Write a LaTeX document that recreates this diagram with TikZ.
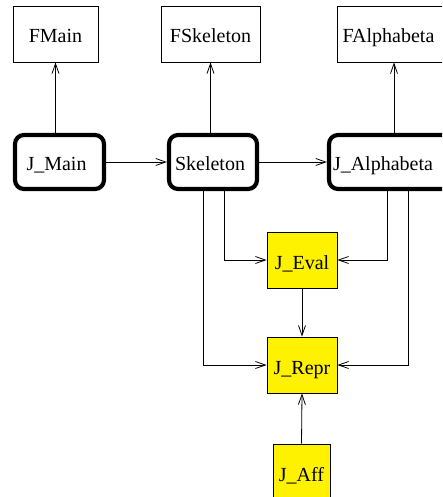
\documentclass[tikz,border=0pt]{standalone}
\usepackage{fontspec}
\setmainfont{Liberation Serif}
\usetikzlibrary{arrows.meta,calc}
\begin{document}
\begin{tikzpicture}[x=1pt,y=-1pt,
  every node/.style={font=\fontsize{20}{24}\selectfont, inner sep=0pt,
    text height=18pt, text depth=0pt},
  filebox/.style={draw, line width=0.8pt, minimum height=56pt},
  modbox/.style={draw, line width=4.2pt, rounded corners=9pt, minimum height=54pt},
  unitbox/.style={draw, line width=0.8pt, fill=yellow, minimum height=56pt},
  arr/.style={line width=0.8pt, -{Straight Barb[length=10pt,width=7pt,line width=0.8pt]}}]
  \useasboundingbox (0,0) rectangle (442,497);
  \clip (0,0) rectangle (442,497);

  % file boxes
  \node[filebox, minimum width=85pt] (fmain) at (55.5,34) {FMain};
  \node[filebox, minimum width=99pt] (fskel) at (210.5,34) {FSkeleton};
  \node[filebox, minimum width=114pt] (falpha) at (394,34) {\hspace*{-11pt}FAlphabeta};

  % module boxes
  \node[modbox, minimum width=89pt] (jmain) at (59.5,162) {J\_Main\hspace*{6pt}};
  \node[modbox, minimum width=88pt] (skel) at (213,162) {Skeleton\hspace*{6pt}};
  \node[modbox, minimum width=130pt] (jalpha) at (394,162) {\hspace*{-22pt}J\_Alphabeta};

  % unit boxes
  \node[unitbox, minimum width=70pt] (jeval) at (302,260) {J\_Eval};
  \node[unitbox, minimum width=70pt] (jrepr) at (302,365) {J\_Repr};
  \node[unitbox, minimum width=57pt] (jaff) at (301.5,472) {J\_Aff};

  % helper points on the lower edges
  \coordinate (sa) at (203,190);
  \coordinate (sb) at (224,190);
  \coordinate (aa) at (387,190);
  \coordinate (ab) at (408,190);

  % upward links to the files
  \draw[arr] (jmain.north -| fmain.south) -- (fmain.south);
  \draw[arr] (skel.north -| fskel.south) -- (fskel.south);
  \draw[arr] (jalpha.north) -- (falpha.south);

  % main chain
  \draw[arr] (jmain.east) -- (skel.west);
  \draw[arr] (skel.east) -- (jalpha.west);

  % links down to the units
  \draw[arr] (sb) |- (jeval.west);
  \draw[arr] (sa) |- (jrepr.west);
  \draw[arr] (aa) |- (jeval.east);
  \draw[arr] (ab) |- (jrepr.east);
  \draw[arr] (jeval.south) -- (jrepr.north);
  \draw[arr] (jaff.north) -- (jrepr.south);
\end{tikzpicture}
\end{document}
